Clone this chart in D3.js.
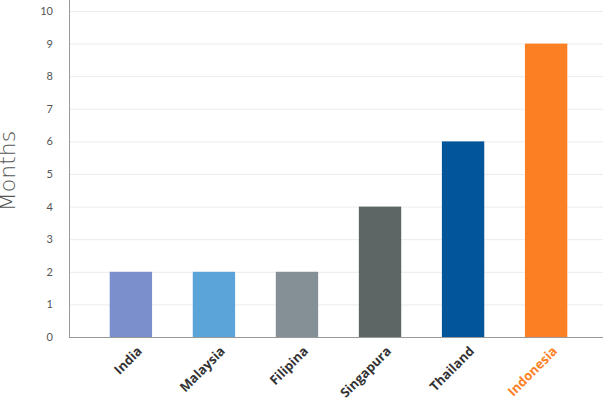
<!DOCTYPE html>
<html><head><meta charset="utf-8">
<script src="https://cdn.jsdelivr.net/npm/d3@7/dist/d3.min.js"></script>
<style>body{margin:0;background:#fff}svg{display:block}</style>
</head><body>
<svg id="c" width="615" height="403"></svg>
<script>
const categories = ["India","Malaysia","Filipina","Singapura","Thailand","Indonesia"];
const values = [2,2,2,4,6,9];
const barColors = ["#7a8fcb","#5ba4da","#848f96","#5d6665","#03559b","#fd7f24"];
const labelColors = ["#333","#333","#333","#333","#333","#fd7f24"];
const yTicks = [0,1,2,3,4,5,6,7,8,9,10];
const yTitle = "Months";

const svg = d3.select("#c");
const x0 = 69, x1 = 603, yb = 337, yt = 11;
const x = d3.scaleBand().domain(categories).range([x0, 608]).paddingInner(0.49).paddingOuter(0.49);
const y = d3.scaleLinear().domain([0,10]).range([yb, yt]);

// grid
svg.append("g").selectAll("line").data(yTicks.filter(d=>d>0)).join("line")
  .attr("x1", x0).attr("x2", x1).attr("y1", d=>y(d)+0.5).attr("y2", d=>y(d)+0.5)
  .attr("stroke", "#ececec").attr("stroke-width", 1);

// bars
svg.append("g").selectAll("rect").data(categories).join("rect")
  .attr("x", d=>x(d)).attr("width", x.bandwidth())
  .attr("y", (d,i)=>y(values[i])).attr("height", (d,i)=>yb - y(values[i]))
  .attr("fill", (d,i)=>barColors[i]);

// y axis
const ya = svg.append("g").attr("transform", `translate(${x0},0)`)
  .call(d3.axisLeft(y).tickValues(yTicks).tickSize(0).tickPadding(16));
ya.select(".domain").remove();
ya.selectAll("text").attr("font-family","Lato, sans-serif").attr("font-size", 11).attr("fill","#555");
svg.append("line").attr("x1", x0+0.5).attr("x2", x0+0.5).attr("y1", 0).attr("y2", yb+0.5)
  .attr("stroke", "#999").attr("stroke-width", 1);

// x axis
const xa = svg.append("g").attr("transform", `translate(0,${yb})`)
  .call(d3.axisBottom(x).tickSize(0).tickPadding(0));
xa.select(".domain").remove();
svg.append("line").attr("x1", x0).attr("x2", x1).attr("y1", yb+0.5).attr("y2", yb+0.5)
  .attr("stroke", "#999").attr("stroke-width", 1);
xa.selectAll("text")
  .attr("font-family","'Open Sans', sans-serif").attr("font-weight", 700).attr("font-size", 13)
  .attr("fill", (d,i)=>labelColors[i])
  .attr("text-anchor","end").attr("dy", null).attr("y", 0).attr("x", 0)
  .attr("transform", "translate(12,15) rotate(-45)");

// y title
svg.append("text").attr("transform", `translate(15,171) rotate(-90)`)
  .attr("text-anchor","middle").attr("font-family","'DejaVu Sans', sans-serif").attr("font-weight",200)
  .attr("font-size", 22).attr("fill","#555").text(yTitle);
</script>
</body></html>
